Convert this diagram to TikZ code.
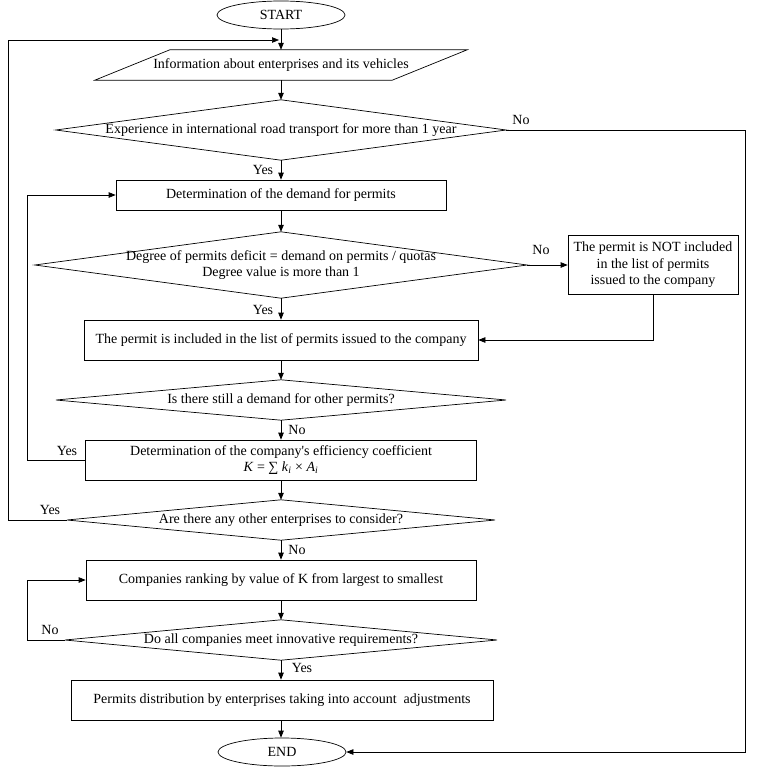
\documentclass[tikz,border=0pt]{standalone}
\usepackage{fontspec}
\setmainfont{Liberation Serif}[Ligatures=TeXOff]
\usetikzlibrary{shapes.geometric,arrows.meta}
\begin{document}
\begin{tikzpicture}[x=1pt,y=-1pt,
  every node/.style={font=\fontsize{14}{16.5}\selectfont},
  box/.style={draw,line width=0.7pt,inner sep=0pt,align=center},
  term/.style={draw,ellipse,line width=0.7pt,inner sep=0pt},
  decarea/.style={inner sep=0pt,align=center},
  lbl/.style={inner sep=1pt},
  arr/.style={line width=0.7pt,-{Triangle[length=7pt,width=5.5pt]}},
  outl/.style={line width=0.7pt}]
\useasboundingbox (0,0) rectangle (764,771);
% nodes
\node[term,minimum width=128pt,minimum height=28pt] (start) at (281,15) {START};
\node[inner sep=0pt,minimum width=297pt,minimum height=30pt] (info) at (281,65) {Information about enterprises and its vehicles};
\node[decarea,minimum width=450pt,minimum height=60pt] (d1) at (281,130) {Experience in international road transport for more than 1 year};
\node[box,minimum width=330pt,minimum height=30pt] (demand) at (281,195) {Determination of the demand for permits};
\node[decarea,minimum width=492pt,minimum height=66pt] (d2) at (281,265) {Degree of permits deficit = demand on permits / quotas\\Degree value is more than 1};
\node[box,minimum width=170pt,minimum height=59pt] (notinc) at (653,265) {The permit is NOT included\\in the list of permits\\issued to the company};
\node[box,minimum width=394pt,minimum height=40pt] (inc) at (281,340) {The permit is included in the list of permits issued to the company};
\node[decarea,minimum width=450pt,minimum height=40pt] (d3) at (281,400) {Is there still a demand for other permits?};
\node[box,minimum width=391pt,minimum height=40pt] (eff) at (281,460) {Determination of the company's efficiency coefficient\\\textit{K} = ∑ \textit{k}\textsubscript{\textit{i}} × \textit{A}\textsubscript{\textit{i}}};
\node[decarea,minimum width=428pt,minimum height=40pt] (d4) at (281,520) {Are there any other enterprises to consider?};
\node[box,minimum width=390pt,minimum height=40pt] (rank) at (281,580) {Companies ranking by value of K from largest to smallest};
\node[decarea,minimum width=432pt,minimum height=40pt] (d5) at (281,640) {Do all companies meet innovative requirements?};
\node[box,minimum width=422pt,minimum height=40pt] (dist) at (282,700) {Permits distribution by enterprises taking into account\ \ adjustments};
\node[term,minimum width=128pt,minimum height=28pt] (end) at (282,752) {END};
% outlines
\draw[outl] ([xshift=-37.5pt]info.south west) -- ([xshift=37.5pt]info.north west) -- ([xshift=37.5pt]info.north east) -- ([xshift=-37.5pt]info.south east) -- cycle;
\foreach \d in {d1,d2,d3,d4,d5}
  \draw[outl] (\d.west) -- (\d.north) -- (\d.east) -- (\d.south) -- cycle;
% coordinates
\coordinate (c1) at (8,520);
\coordinate (c2) at (8,40);
\coordinate (j1) at (281,40);
\coordinate (c3) at (745,130);
\coordinate (c4) at (745,752);
\coordinate (c5) at (27,460);
\coordinate (c6) at (27,195);
\coordinate (c7) at (653,340);
\coordinate (c8) at (27,640);
\coordinate (c9) at (27,580);
% connectors
\draw[arr] (start.south) -- (info.north);
\draw[arr] (info.south) -- (d1.north);
\draw[arr] (d1.south) -- (demand.north);
\draw[arr] (demand.south) -- (d2.north);
\draw[arr] (d2.east) -- (notinc.west);
\draw[arr] (d2.south) -- (inc.north);
\draw[arr] (notinc.south) -- (c7) -- (inc.east);
\draw[arr] (inc.south) -- (d3.north);
\draw[arr] (d3.south) -- (eff.north);
\draw[arr] (eff.west) -- (c5) -- (c6) -- (demand.west);
\draw[arr] (eff.south) -- (d4.north);
\draw[arr] (d4.west) -- (c1) -- (c2) -- ([xshift=-2pt]j1);
\draw[arr] (d4.south) -- (rank.north);
\draw[arr] (rank.south) -- (d5.north);
\draw[arr] (d5.west) -- (c8) -- (c9) -- (rank.west);
\draw[arr] (d5.south) -- (dist.north -| d5.south);
\draw[arr] (dist.south -| d5.south) -- (end.north -| d5.south);
\draw[arr] (d1.east) -- (c3) -- (c4) -- (end.east);
% labels
\node[lbl] (l1) at (521,120) {No};
\node[lbl] (l2) at (263,170) {Yes};
\node[lbl] (l3) at (541,250) {No};
\node[lbl] (l4) at (263,310) {Yes};
\node[lbl] (l5) at (297,430) {No};
\node[lbl] (l6) at (67,451) {Yes};
\node[lbl] (l7) at (50,510) {Yes};
\node[lbl] (l8) at (297,550) {No};
\node[lbl] (l9) at (50,630) {No};
\node[lbl] (l10) at (302,668) {Yes};
\end{tikzpicture}
\end{document}
